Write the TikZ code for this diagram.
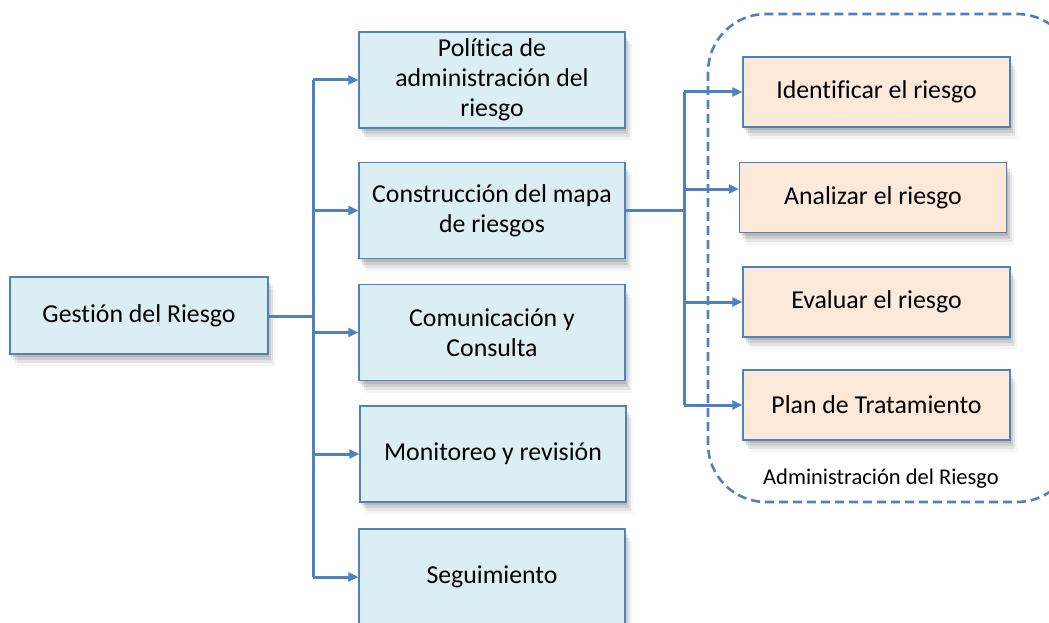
\documentclass[tikz,border=0pt]{standalone}
\usepackage{fontspec}
\setmainfont[Ligatures={NoCommon}]{Carlito}
\usetikzlibrary{arrows.meta,shadows}
\definecolor{lineblue}{HTML}{4F81BD}
\definecolor{boxblue}{HTML}{DBEEF4}
\definecolor{boxorange}{HTML}{FDE9D9}
\tikzset{
  softshadow/.style={
    drop shadow={shadow xshift=1pt,shadow yshift=-3pt,fill=black,opacity=0.10},
    drop shadow={shadow xshift=3pt,shadow yshift=-6pt,fill=black,opacity=0.10},
    drop shadow={shadow xshift=5pt,shadow yshift=-9pt,fill=black,opacity=0.07},
    drop shadow={shadow xshift=7pt,shadow yshift=-12pt,fill=black,opacity=0.04}},
  bbox/.style={draw=lineblue,line width=1.2pt,fill=boxblue,minimum width=266pt,minimum height=96pt,align=center,
    font=\fontsize{25.8}{30}\selectfont,inner sep=0pt,softshadow},
  obox/.style={bbox,fill=boxorange,minimum width=267pt,minimum height=70pt},
  conn/.style={draw=lineblue,line width=3pt},
  arr/.style={conn,-{Triangle[length=10pt,width=9pt]}},
  dashbox/.style={draw=lineblue,line width=2.6pt,dash pattern=on 9pt off 5pt,rounded corners=58pt}
}
\begin{document}
\begin{tikzpicture}[x=1pt,y=-1pt]
\useasboundingbox (0,0) rectangle (1049,623);
\begin{scope}
\clip (0,0) rectangle (1049,623);
\draw[dashbox] (708,14) rectangle (1075,502);
\node[font=\fontsize{22.5}{26}\selectfont] (lab) at (881,479) {Administración del Riesgo};

\node[bbox,minimum width=258pt,minimum height=77pt] (g) at (139,315.5) {Gestión del Riesgo};
\node[bbox] (p1) at (492,80) {Política de\\administración del\\riesgo};
\node[bbox] (p2) at (492,210.5) {Construcción del mapa\\de riesgos};
\node[bbox] (p3) at (492,332.5) {Comunicación y\\Consulta};
\node[bbox] (p4) at (493,454) {Monitoreo y revisión};
\node[bbox] (p5) at (492,577) {Seguimiento};

\node[obox] (o1) at (876.5,92) {Identificar el riesgo};
\node[obox] (o2) at (873,197.5) {Analizar el riesgo};
\node[obox] (o3) at (876.5,302) {Evaluar el riesgo};
\node[obox] (o4) at (876.5,405) {Plan de Tratamiento};

\coordinate (j) at (313,316);
\coordinate (k) at (684,210);
\draw[conn] (g.east |- j) -- (j);
\draw[conn] (j |- p1.west) -- (j |- p5.west);
\foreach \n in {p1,p2,p3,p4,p5}{
  \draw[arr] (j |- \n.west) -- (\n.west);
}
\draw[conn] (p2.east |- k) -- (k);
\draw[conn] (k |- o1.west) -- (k |- o4.west);
\coordinate (a2) at (684,189);
\draw[arr] (k |- o1.west) -- (o1.west);
\draw[arr] (a2) -- (o2.west |- a2);
\draw[arr] (k |- o3.west) -- (o3.west);
\draw[arr] (k |- o4.west) -- (o4.west);
\end{scope}
\end{tikzpicture}
\end{document}
